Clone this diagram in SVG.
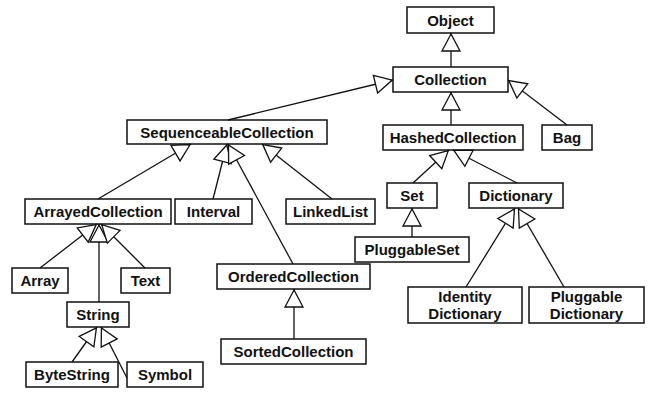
<svg xmlns="http://www.w3.org/2000/svg" width="648" height="396" viewBox="0 0 648 396">
<style>
.n rect{fill:#fff;stroke:#111;stroke-width:1.5}
.n text{font-family:"Liberation Sans",Arial,Helvetica,sans-serif;font-weight:bold;font-size:15px;fill:#111;text-anchor:middle}
#edges line{stroke:#111;stroke-width:1.3;marker-end:url(#tri)}
</style>
<defs>
<marker id="tri" viewBox="-20 -11 22 22" refX="0" refY="0" markerWidth="22" markerHeight="22" markerUnits="userSpaceOnUse" orient="auto">
<path d="M-1,0 L-18,-9 L-18,9 Z" fill="#fff" stroke="#111" stroke-width="1.3"/>
</marker>
</defs>
<rect width="648" height="396" fill="#fff"/>
<g id="Object" class="n"><rect x="407" y="7" width="87" height="26"/><text x="450.5" y="25.5">Object</text></g>
<g id="Collection" class="n"><rect x="393" y="67" width="115" height="25"/><text x="450.5" y="85">Collection</text></g>
<g id="SequenceableCollection" class="n"><rect x="127" y="120" width="200" height="24"/><text x="227" y="137.5">SequenceableCollection</text></g>
<g id="HashedCollection" class="n"><rect x="383" y="125" width="140" height="25"/><text x="453" y="143">HashedCollection</text></g>
<g id="Bag" class="n"><rect x="542" y="125" width="50" height="25"/><text x="567" y="143">Bag</text></g>
<g id="ArrayedCollection" class="n"><rect x="25" y="199" width="146" height="25"/><text x="98" y="217">ArrayedCollection</text></g>
<g id="Interval" class="n"><rect x="175" y="199" width="77" height="25"/><text x="213.5" y="217">Interval</text></g>
<g id="LinkedList" class="n"><rect x="286" y="199" width="89" height="25"/><text x="330.5" y="217">LinkedList</text></g>
<g id="Set" class="n"><rect x="387" y="183" width="50" height="25"/><text x="412" y="201">Set</text></g>
<g id="Dictionary" class="n"><rect x="469" y="183" width="94" height="25"/><text x="516" y="201">Dictionary</text></g>
<g id="PluggableSet" class="n"><rect x="355" y="237" width="114" height="25"/><text x="412" y="255">PluggableSet</text></g>
<g id="OrderedCollection" class="n"><rect x="217" y="264" width="153" height="25"/><text x="293.5" y="282">OrderedCollection</text></g>
<g id="SortedCollection" class="n"><rect x="221" y="339" width="145" height="25"/><text x="293.5" y="357">SortedCollection</text></g>
<g id="Array" class="n"><rect x="12" y="268" width="56" height="25"/><text x="40" y="286">Array</text></g>
<g id="Text" class="n"><rect x="121" y="268" width="49" height="25"/><text x="145.5" y="286">Text</text></g>
<g id="String" class="n"><rect x="67" y="302" width="62" height="25"/><text x="98" y="320">String</text></g>
<g id="ByteString" class="n"><rect x="26" y="362" width="92" height="25"/><text x="72" y="380">ByteString</text></g>
<g id="Symbol" class="n"><rect x="127" y="362" width="76" height="25"/><text x="165" y="380">Symbol</text></g>
<g id="IdentityDictionary" class="n"><rect x="408" y="287" width="114" height="36"/><text x="465" y="302">Identity</text><text x="465" y="318.5">Dictionary</text></g>
<g id="PluggableDictionary" class="n"><rect x="529" y="287" width="115" height="36"/><text x="586.5" y="302">Pluggable</text><text x="586.5" y="318.5">Dictionary</text></g>
<g id="edges">
<line x1="451" y1="67" x2="451" y2="33"/>
<line x1="228" y1="120" x2="393" y2="80"/>
<line x1="451" y1="125" x2="451" y2="92"/>
<line x1="567" y1="125" x2="508" y2="80"/>
<line x1="98" y1="199" x2="191" y2="144"/>
<line x1="213" y1="199" x2="227" y2="144"/>
<line x1="293" y1="264" x2="228" y2="144"/>
<line x1="332" y1="199" x2="262" y2="144"/>
<line x1="413" y1="183" x2="449" y2="150"/>
<line x1="517" y1="183" x2="453" y2="150"/>
<line x1="412" y1="237" x2="412" y2="208"/>
<line x1="466" y1="287" x2="515" y2="208"/>
<line x1="564" y1="287" x2="518" y2="208"/>
<line x1="294" y1="339" x2="294" y2="289"/>
<line x1="40" y1="268" x2="97" y2="224"/>
<line x1="99" y1="302" x2="99" y2="224"/>
<line x1="145" y1="268" x2="101" y2="224"/>
<line x1="72" y1="362" x2="97" y2="327"/>
<line x1="127" y1="378" x2="101" y2="327"/>
</g>
</svg>
